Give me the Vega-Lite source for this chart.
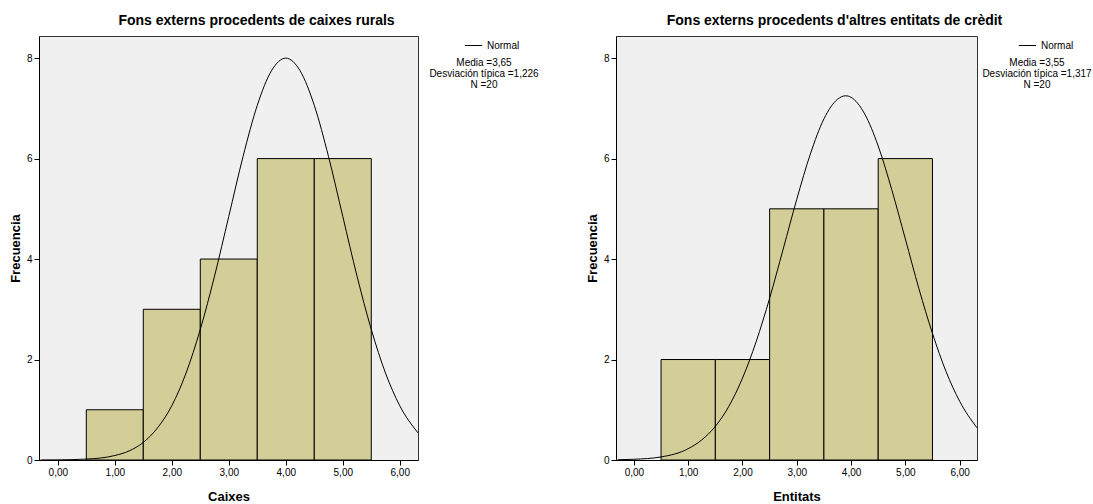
{
  "$schema": "https://vega.github.io/schema/vega-lite/v6.json",
  "padding": {"left": 8, "top": 13, "right": 0, "bottom": 0},
  "background": "white",
  "config": {
    "font": "Liberation Sans",
    "view": {"fill": "#f0f0f0", "stroke": "#333333", "strokeWidth": 1},
    "title": {"fontSize": 14, "fontWeight": "bold", "color": "#000", "offset": 8},
    "axis": {"grid": false, "domainColor": "#000", "tickColor": "#000", "labelColor": "#000", "labelFontSize": 10, "titleFontSize": 13, "titleFontWeight": "bold", "titleColor": "#000", "tickSize": 5, "labelPadding": 2},
    "concat": {"spacing": 45}
  },
  "datasets": {
    "bars1": [
      {"x0": 0.5, "x1": 1.5, "count": 1},
      {"x0": 1.5, "x1": 2.5, "count": 3},
      {"x0": 2.5, "x1": 3.5, "count": 4},
      {"x0": 3.5, "x1": 4.5, "count": 6},
      {"x0": 4.5, "x1": 5.5, "count": 6}
    ],
    "bars2": [
      {"x0": 0.5, "x1": 1.5, "count": 2},
      {"x0": 1.5, "x1": 2.5, "count": 2},
      {"x0": 2.5, "x1": 3.5, "count": 5},
      {"x0": 3.5, "x1": 4.5, "count": 5},
      {"x0": 4.5, "x1": 5.5, "count": 6}
    ],
    "curve1": [
      {"x": -0.3, "y": 0.001, "series": "Normal"},
      {"x": 0, "y": 0.003, "series": "Normal"},
      {"x": 0.5, "y": 0.018, "series": "Normal"},
      {"x": 1, "y": 0.089, "series": "Normal"},
      {"x": 1.25, "y": 0.18, "series": "Normal"},
      {"x": 1.5, "y": 0.35, "series": "Normal"},
      {"x": 1.75, "y": 0.64, "series": "Normal"},
      {"x": 2, "y": 1.08, "series": "Normal"},
      {"x": 2.25, "y": 1.73, "series": "Normal"},
      {"x": 2.5, "y": 2.6, "series": "Normal"},
      {"x": 2.75, "y": 3.66, "series": "Normal"},
      {"x": 3, "y": 4.85, "series": "Normal"},
      {"x": 3.25, "y": 6.04, "series": "Normal"},
      {"x": 3.5, "y": 7.06, "series": "Normal"},
      {"x": 3.75, "y": 7.75, "series": "Normal"},
      {"x": 4, "y": 8.0, "series": "Normal"},
      {"x": 4.25, "y": 7.75, "series": "Normal"},
      {"x": 4.5, "y": 7.06, "series": "Normal"},
      {"x": 4.75, "y": 6.04, "series": "Normal"},
      {"x": 5, "y": 4.85, "series": "Normal"},
      {"x": 5.25, "y": 3.66, "series": "Normal"},
      {"x": 5.5, "y": 2.6, "series": "Normal"},
      {"x": 5.75, "y": 1.73, "series": "Normal"},
      {"x": 6, "y": 1.08, "series": "Normal"},
      {"x": 6.32, "y": 0.54, "series": "Normal"}
    ],
    "curve2": [
      {"x": -0.3, "y": 0.005, "series": "Normal"},
      {"x": 0, "y": 0.014, "series": "Normal"},
      {"x": 0.5, "y": 0.061, "series": "Normal"},
      {"x": 1, "y": 0.225, "series": "Normal"},
      {"x": 1.25, "y": 0.4, "series": "Normal"},
      {"x": 1.5, "y": 0.67, "series": "Normal"},
      {"x": 1.75, "y": 1.07, "series": "Normal"},
      {"x": 2, "y": 1.63, "series": "Normal"},
      {"x": 2.25, "y": 2.35, "series": "Normal"},
      {"x": 2.5, "y": 3.22, "series": "Normal"},
      {"x": 2.75, "y": 4.2, "series": "Normal"},
      {"x": 3, "y": 5.19, "series": "Normal"},
      {"x": 3.25, "y": 6.09, "series": "Normal"},
      {"x": 3.5, "y": 6.79, "series": "Normal"},
      {"x": 3.75, "y": 7.18, "series": "Normal"},
      {"x": 3.9, "y": 7.25, "series": "Normal"},
      {"x": 4, "y": 7.22, "series": "Normal"},
      {"x": 4.25, "y": 6.89, "series": "Normal"},
      {"x": 4.5, "y": 6.25, "series": "Normal"},
      {"x": 4.75, "y": 5.38, "series": "Normal"},
      {"x": 5, "y": 4.4, "series": "Normal"},
      {"x": 5.25, "y": 3.41, "series": "Normal"},
      {"x": 5.5, "y": 2.52, "series": "Normal"},
      {"x": 5.75, "y": 1.76, "series": "Normal"},
      {"x": 6, "y": 1.17, "series": "Normal"},
      {"x": 6.32, "y": 0.64, "series": "Normal"}
    ]
  },
  "resolve": {"scale": {"stroke": "independent"}, "legend": {"stroke": "independent"}},
  "hconcat": [
    {
      "width": 379,
      "height": 424,
      "title": {"text": "Fons externs procedents de caixes rurals", "dx": 28},
      "layer": [
        {
          "data": {"name": "bars1"},
          "mark": {"type": "rect", "fill": "#d3ce97", "stroke": "#000", "strokeWidth": 1},
          "encoding": {
            "x": {"field": "x0", "type": "quantitative", "title": "Caixes", "scale": {"domain": [-0.33, 6.32], "nice": false, "zero": false}, "axis": {"values": [0, 1, 2, 3, 4, 5, 6], "labelExpr": "replace(format(datum.value, '.2f'), '.', ',')", "titlePadding": 13}},
            "x2": {"field": "x1"},
            "y": {"field": "count", "type": "quantitative", "title": "Frecuencia", "scale": {"domain": [0, 8.44], "nice": false}, "axis": {"values": [0, 2, 4, 6, 8], "titlePadding": 4}},
            "y2": {"datum": 0}
          }
        },
        {
          "data": {"name": "curve1"},
          "mark": {"type": "line", "strokeWidth": 1, "clip": true, "interpolate": "monotone"},
          "encoding": {
            "x": {"field": "x", "type": "quantitative"},
            "y": {"field": "y", "type": "quantitative"},
            "stroke": {"field": "series", "type": "nominal", "scale": {"range": ["#000000"]},
              "legend": {"title": ["Media =3,65", "Desviación típica =1,226", "N =20"], "titleOrient": "bottom", "titleAnchor": "middle", "titleAlign": "center", "titleFontWeight": "normal", "titleFontSize": 10, "titleLineHeight": 11, "titleColor": "#000", "titlePadding": 7, "symbolType": "stroke", "symbolSize": 300, "symbolStrokeWidth": 1, "symbolOffset": 15, "labelFontSize": 10, "labelColor": "#000", "offset": 11, "padding": 0}}
          }
        }
      ]
    },
    {
      "width": 361,
      "height": 424,
      "title": {"text": "Fons externs procedents d'altres entitats de crèdit", "dx": 38},
      "layer": [
        {
          "data": {"name": "bars2"},
          "mark": {"type": "rect", "fill": "#d3ce97", "stroke": "#000", "strokeWidth": 1},
          "encoding": {
            "x": {"field": "x0", "type": "quantitative", "title": "Entitats", "scale": {"domain": [-0.33, 6.32], "nice": false, "zero": false}, "axis": {"values": [0, 1, 2, 3, 4, 5, 6], "labelExpr": "replace(format(datum.value, '.2f'), '.', ',')", "titlePadding": 13}},
            "x2": {"field": "x1"},
            "y": {"field": "count", "type": "quantitative", "title": "Frecuencia", "scale": {"domain": [0, 8.44], "nice": false}, "axis": {"values": [0, 2, 4, 6, 8], "titlePadding": 4}},
            "y2": {"datum": 0}
          }
        },
        {
          "data": {"name": "curve2"},
          "mark": {"type": "line", "strokeWidth": 1, "clip": true, "interpolate": "monotone"},
          "encoding": {
            "x": {"field": "x", "type": "quantitative"},
            "y": {"field": "y", "type": "quantitative"},
            "stroke": {"field": "series", "type": "nominal", "scale": {"range": ["#000000"]},
              "legend": {"title": ["Media =3,55", "Desviación típica =1,317", "N =20"], "titleOrient": "bottom", "titleAnchor": "middle", "titleAlign": "center", "titleFontWeight": "normal", "titleFontSize": 10, "titleLineHeight": 11, "titleColor": "#000", "titlePadding": 7, "symbolType": "stroke", "symbolSize": 300, "symbolStrokeWidth": 1, "symbolOffset": 18, "labelFontSize": 10, "labelColor": "#000", "offset": 5, "padding": 0}}
          }
        }
      ]
    }
  ]
}
